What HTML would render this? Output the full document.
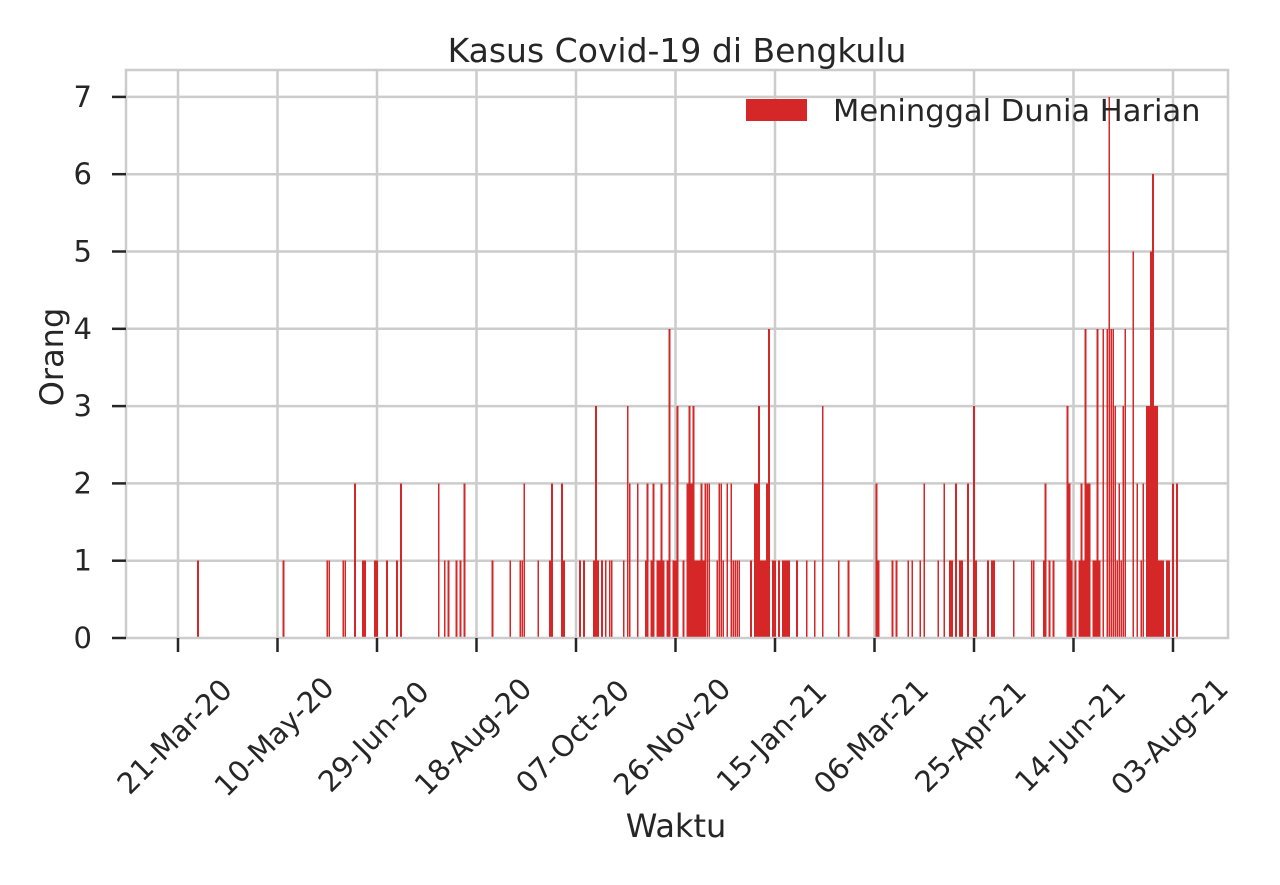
<!DOCTYPE html>
<html><head><meta charset="utf-8"><style>
body{margin:0;background:#fff}
svg text{font-family:"DejaVu Sans","Liberation Sans",sans-serif;fill:#262626}
</style></head><body>
<svg id="chart" width="1280" height="880" xmlns="http://www.w3.org/2000/svg">
<rect width="1280" height="880" fill="#fff"/>
<g id="grid"></g><g id="bars" shape-rendering="crispEdges"></g><g id="axes"></g>
<text x="677" y="62" style="font-size:33px" text-anchor="middle">Kasus Covid-19 di Bengkulu</text>
<text x="676" y="837" style="font-size:32px" text-anchor="middle">Waktu</text>
<text transform="translate(63,357) rotate(-90)" style="font-size:32px" text-anchor="middle">Orang</text>
<g>
<rect x="746" y="99" width="61" height="22" fill="#d62728"/>
<text x="833" y="121" style="font-size:30.5px">Meninggal Dunia Harian</text>
</g>
</svg>
<script>
const tickLabels=["21-Mar-20","10-May-20","29-Jun-20","18-Aug-20","07-Oct-20","26-Nov-20","15-Jan-21","06-Mar-21","25-Apr-21","14-Jun-21","03-Aug-21"];
const yTicks=[0,1,2,3,4,5,6,7];
const days=[10,53,75,76,83,84,89,93,94,99,100,105,110,112,131,134,136,140,142,144,
158,167,172,173,174,181,187,188,193,194,202,204,209,210,211,213,215,217,218,224,226,227,231,235,236,238,239,241,242,243,244,246,247,249,250,251,254,256,257,258,259,260,261,262,263,264,265,266,267,271,272,273,274,276,278,279,280,281,282,288,290,291,292,293,294,295,296,297,299,300,302,304,305,306,307,311,316,320,324,332,337,351,352,
359,361,367,369,373,375,382,385,388,389,391,393,394,397,400,401,407,409,410,420,429,430,435,436,438,440,
447,448,449,451,453,454,455,456,457,458,460,461,462,463,465,467,468,469,470,471,472,473,474,475,476,480,482,484,485,487,488,489,490,491,492,493,494,495,497,498,500,502];
const values=[1,1,1,1,1,1,2,1,1,1,1,1,1,2,2,1,1,1,1,2,
1,1,1,1,2,1,1,2,2,1,1,1,1,3,1,1,1,1,1,1,3,2,2,1,2,1,2,1,1,2,1,1,4,1,1,3,1,2,3,2,3,1,1,1,2,1,2,2,2,1,2,2,1,2,2,1,1,1,1,1,2,2,3,1,1,1,2,4,1,1,1,1,1,1,1,1,1,1,3,1,1,2,1,
1,1,1,1,1,2,1,2,1,1,2,1,1,2,3,1,1,1,1,1,1,1,1,2,1,1,
3,2,1,1,1,2,1,4,2,2,1,1,4,1,4,4,7,4,4,3,1,2,1,3,4,5,2,1,2,3,3,5,6,3,3,1,1,1,1,1,2,2];
const NS="http://www.w3.org/2000/svg";
const X0=178,PX=1.99,Y0=638,PY=77.3,L=126,R=1228,T=70;
const xs=d=>X0+d*PX, ys=v=>Y0-v*PY;
function mk(tag,attrs,parent){const e=document.createElementNS(NS,tag);for(const k in attrs)e.setAttribute(k,attrs[k]);parent.appendChild(e);return e;}
const grid=document.getElementById('grid'),bars=document.getElementById('bars'),axes=document.getElementById('axes');
mk('rect',{x:L,y:T,width:R-L,height:Y0-T,fill:'none',stroke:'#cccccc','stroke-width':2.5},axes);
tickLabels.forEach((t,i)=>{const x=xs(i*50);
 const g=mk('line',{x1:x,x2:x,y1:T,y2:Y0,stroke:'#cccccc','stroke-width':2.5},grid);
 
 
 const tk=mk('line',{x1:x,x2:x,y1:Y0,y2:Y0+14,stroke:'#262626','stroke-width':2.5},axes);
 
 
 const tx=mk('text',{transform:`translate(${x-2},${738}) rotate(-45)`,style:'font-size:29px','text-anchor':'middle','dominant-baseline':'middle'},axes);
 tx.textContent=t;
 
 
});
yTicks.forEach(v=>{const y=ys(v);
 if(v>0){const g=mk('line',{x1:L,x2:R,y1:y,y2:y,stroke:'#cccccc','stroke-width':2.5},grid);
 
 }
 const tk=mk('line',{x1:L-14,x2:L,y1:y,y2:y,stroke:'#262626','stroke-width':2.5},axes);
 
 
 const tx=mk('text',{x:L-34,y:y+10,style:'font-size:29px','text-anchor':'end'},axes);
 tx.textContent=v;
 
 
});
days.forEach((d,i)=>{const w=0.9*PX;
 const b=mk('rect',{x:xs(d)-w/2,y:ys(values[i]),width:w,height:values[i]*PY,fill:'#d62728'},bars);
 
 
});
</script>
</body></html>
